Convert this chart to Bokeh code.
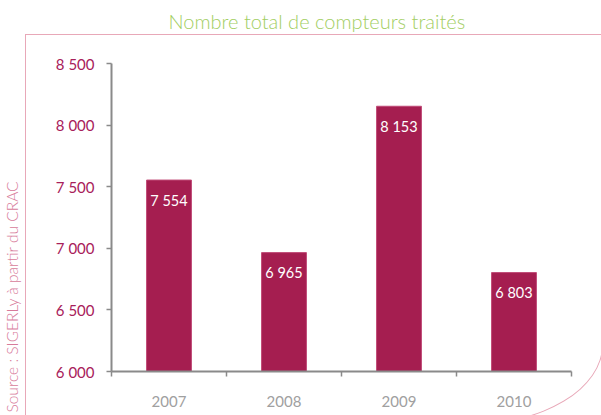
import numpy as np
from bokeh.plotting import figure
from bokeh.models import Range1d, FixedTicker, Title, ColumnDataSource, InlineStyleSheet
from bokeh.core.properties import value
from bokeh.embed import file_html
from bokeh.resources import INLINE

# ---- data ----
years = ["2007", "2008", "2009", "2010"]
counts = [7554, 6965, 8153, 6803]
count_labels = ["7 554", "6 965", "8 153", "6 803"]
y_ticks = [6000, 6500, 7000, 7500, 8000, 8500]
y_tick_labels = ["6 000", "6 500", "7 000", "7 500", "8 000", "8 500"]
title_text = "Nombre total de compteurs traités"
source_text = "Source : SIGERLy à partir du CRAC"

BAR = "#A51E50"
AXIS = "#8A8A8A"
PINK = "#E8A8B8"
THIN = "'Lato Light', 'Lato', sans-serif"

W, H = 601, 415
pos = [i + 0.5 for i in range(len(years))]

p = figure(width=W, height=H, output_backend="svg", toolbar_location=None, title=None,
           x_range=Range1d(0, len(years)), y_range=Range1d(6000, 8500),
           min_border_left=110, min_border_right=30, min_border_top=63, min_border_bottom=44)
p.outline_line_color = None
p.grid.visible = False
p.background_fill_color = "white"
p.border_fill_color = "white"

src = ColumnDataSource(dict(x=pos, top=counts, lab=count_labels))
p.vbar(x="x", top="top", bottom=6000, width=0.39, source=src,
       fill_color=BAR, line_color="#C04A76", line_width=1)
p.text(x="x", y="top", text="lab", source=src, text_color="white",
       text_font=value("Lato"), text_font_size="14.5px", text_align="center",
       text_baseline="middle", y_offset=20)

# x axis
xa = p.xaxis[0]
xa.ticker = FixedTicker(ticks=pos, minor_ticks=list(range(len(years) + 1)))
xa.major_label_overrides = {float(x): y for x, y in zip(pos, years)}
xa.major_tick_line_color = None
xa.minor_tick_line_color = AXIS
xa.minor_tick_in = 0
xa.minor_tick_out = 5
xa.minor_tick_line_width = 1.5
xa.axis_line_color = AXIS
xa.axis_line_width = 2
xa.major_label_text_color = "#A0A0A0"
xa.major_label_text_font = "Lato"
xa.major_label_text_font_size = "15px"
xa.major_label_standoff = 18

# y axis
ya = p.yaxis[0]
ya.ticker = FixedTicker(ticks=y_ticks, minor_ticks=[])
ya.major_label_overrides = {float(t): l for t, l in zip(y_ticks, y_tick_labels)}
ya.axis_line_color = AXIS
ya.axis_line_width = 2
ya.major_tick_line_color = AXIS
ya.major_tick_line_width = 1.5
ya.major_tick_in = 0
ya.major_tick_out = 5
ya.major_label_text_color = "#A8205A"
ya.major_label_text_font = "Lato"
ya.major_label_text_font_size = "15px"
ya.major_label_standoff = 12

# spacer panels (blank titles) to push the real titles outward
p.add_layout(Title(text=" ", text_font_size="10px", standoff=18), "above")
p.add_layout(Title(text=title_text, align="left", offset=57, standoff=0,
                   text_color="#A2CE62", text_font=THIN, text_font_style="normal",
                   text_font_size="20px"), "above")

p.add_layout(Title(text=" ", text_font_size="10px", standoff=19), "left")
p.add_layout(Title(text=source_text, align="left", offset=-41, standoff=0,
                   text_color="#D77B9A", text_font=THIN, text_font_style="normal",
                   text_font_size="15.5px"), "left")

# decorative frame with rounded bottom-right corner
css = """
:host { position: relative; overflow: hidden; }
:host::after {
  content: "";
  position: absolute;
  left: 25px; top: 34px;
  width: 578px; height: 391px;
  box-sizing: border-box;
  border: 1px solid %s;
  border-bottom-right-radius: 133px 80px;
  pointer-events: none;
}
""" % PINK
p.stylesheets = [InlineStyleSheet(css=css)]

open("out.html", "w").write(file_html(p, INLINE))
